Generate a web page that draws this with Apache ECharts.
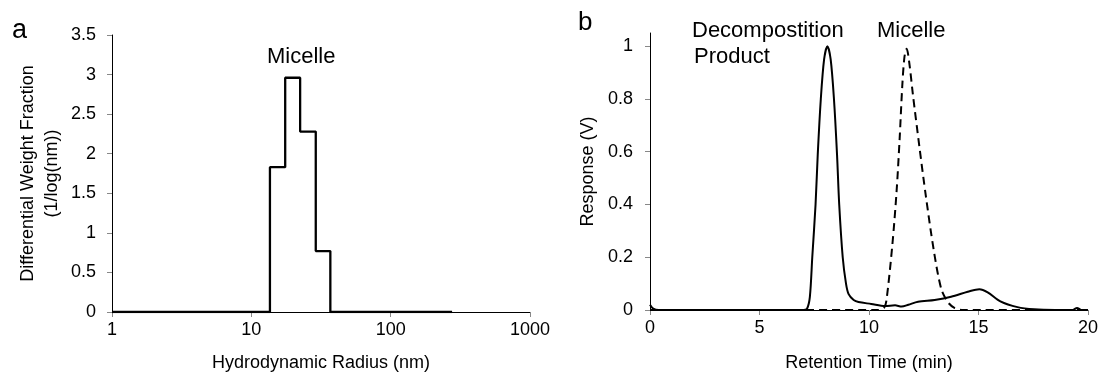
<!DOCTYPE html>
<html>
<head>
<meta charset="utf-8">
<script src="https://cdn.jsdelivr.net/npm/echarts@6/dist/echarts.min.js"></script>
<style>
  html, body { margin: 0; padding: 0; background: #fff; }
  #chart { width: 1101px; height: 380px; }
</style>
</head>
<body>
<div id="chart"></div>
<script>
// panel a: step histogram (bin left edges, heights)
const radiusEdges = [1, 13.6, 17.5, 22.4, 29.0, 36.9, 276];
const weightFrac = [0, 1.83, 2.96, 2.28, 0.77, 0, 0];
const radiusTicks = ['1', '10', '100', '1000'];

// panel b: chromatograms
const timeSolid = [0, 0.15, 0.4, 3, 7.0, 7.17, 7.3, 7.41, 7.56, 7.66, 7.8, 7.95, 8.1, 8.25, 8.4, 8.54, 8.64, 8.8, 8.95, 9.07, 9.3, 9.52, 10.1, 10.73, 11.19, 11.49, 11.8, 12.24, 13.0, 13.75, 14.51, 15.04, 15.42, 16.0, 16.78, 17.54, 18.5, 19.3, 19.5, 19.7, 20];
const respSolid = [0.02, 0.005, 0, 0, 0, 0.005, 0.05, 0.2, 0.4, 0.59, 0.8, 0.95, 1.0, 0.95, 0.8, 0.59, 0.4, 0.2, 0.1, 0.06, 0.038, 0.03, 0.023, 0.015, 0.018, 0.013, 0.02, 0.031, 0.038, 0.05, 0.069, 0.079, 0.067, 0.033, 0.011, 0.0024, 0, 0, 0.008, 0, 0];
const timeDashed = [0, 10.4, 10.7, 10.81, 11.07, 11.26, 11.4, 11.52, 11.62, 11.72, 11.85, 12.0, 12.3, 12.6, 12.97, 13.3, 13.6, 13.9, 14.3, 20];
const respDashed = [0, 0, 0.01, 0.045, 0.25, 0.45, 0.65, 0.85, 0.96, 0.99, 0.93, 0.82, 0.62, 0.43, 0.22, 0.08, 0.03, 0.008, 0, 0];
const respTicks = [0, 0.2, 0.4, 0.6, 0.8, 1];

const font = 'Liberation Sans';
const zip = (xs, ys) => xs.map((x, i) => [x, ys[i]]);

const axisCommon = {
  axisLine: { lineStyle: { color: '#000', width: 1 } },
  axisTick: { show: true, length: 5, lineStyle: { color: '#888' } },
  axisLabel: { color: '#000', fontSize: 18, fontFamily: font },
  splitLine: { show: false },
  nameTextStyle: { color: '#000', fontSize: 18, fontFamily: font, lineHeight: 24 },
  nameLocation: 'middle'
};

const chart = echarts.init(document.getElementById('chart'));
chart.setOption({
  animation: false,
  grid: [
    { left: 112, top: 35, width: 418, bottom: 58 },
    { left: 650, top: 33, width: 441, bottom: 58 }
  ],
  xAxis: [
    Object.assign({}, axisCommon, {
      gridIndex: 0, type: 'log', logBase: 10, min: 1, max: 1000,
      name: 'Hydrodynamic Radius (nm)', nameGap: 39,
      axisLabel: Object.assign({}, axisCommon.axisLabel, { margin: 9, formatter: v => radiusTicks[Math.round(Math.log10(v))] })
    }),
    Object.assign({}, axisCommon, {
      gridIndex: 1, type: 'value', min: 0, max: 20, interval: 5,
      name: 'Retention Time (min)', nameGap: 41,
      axisLabel: Object.assign({}, axisCommon.axisLabel, { margin: 9 })
    })
  ],
  yAxis: [
    Object.assign({}, axisCommon, {
      gridIndex: 0, type: 'value', min: 0, max: 3.5, interval: 0.5,
      name: 'Differential Weight Fraction\n(1/log(nm))', nameGap: 48,
      axisLabel: Object.assign({}, axisCommon.axisLabel, { margin: 16 })
    }),
    Object.assign({}, axisCommon, {
      gridIndex: 1, type: 'value', min: 0, max: 1.05,
      name: 'Response (V)', nameGap: 50,
      axisTick: Object.assign({}, axisCommon.axisTick, { customValues: respTicks }),
      axisLabel: Object.assign({}, axisCommon.axisLabel, { margin: 17, customValues: respTicks })
    })
  ],
  series: [
    {
      type: 'line', xAxisIndex: 0, yAxisIndex: 0, step: 'end', showSymbol: false,
      data: zip(radiusEdges, weightFrac),
      lineStyle: { color: '#000', width: 2.3 }
    },
    {
      type: 'line', xAxisIndex: 1, yAxisIndex: 1, showSymbol: false, smooth: 0.3,
      data: zip(timeDashed, respDashed),
      lineStyle: { color: '#000', width: 2, type: [8, 5] }
    },
    {
      type: 'line', xAxisIndex: 1, yAxisIndex: 1, showSymbol: false, smooth: 0.3,
      data: zip(timeSolid, respSolid),
      lineStyle: { color: '#000', width: 2 }
    }
  ],
  graphic: [
    { type: 'text', left: 12, top: 17, style: { text: 'a', fontSize: 27, fontFamily: font, fill: '#000' } },
    { type: 'text', left: 578, top: 10, style: { text: 'b', fontSize: 26, fontFamily: font, fill: '#000' } },
    { type: 'text', left: 267, top: 46, style: { text: 'Micelle', fontSize: 22, fontFamily: font, fill: '#000' } },
    { type: 'text', left: 692, top: 20, style: { text: 'Decompostition', fontSize: 22, fontFamily: font, fill: '#000' } },
    { type: 'text', left: 694, top: 46, style: { text: 'Product', fontSize: 22, fontFamily: font, fill: '#000' } },
    { type: 'text', left: 877, top: 20, style: { text: 'Micelle', fontSize: 22, fontFamily: font, fill: '#000' } }
  ]
});
</script>
</body>
</html>
